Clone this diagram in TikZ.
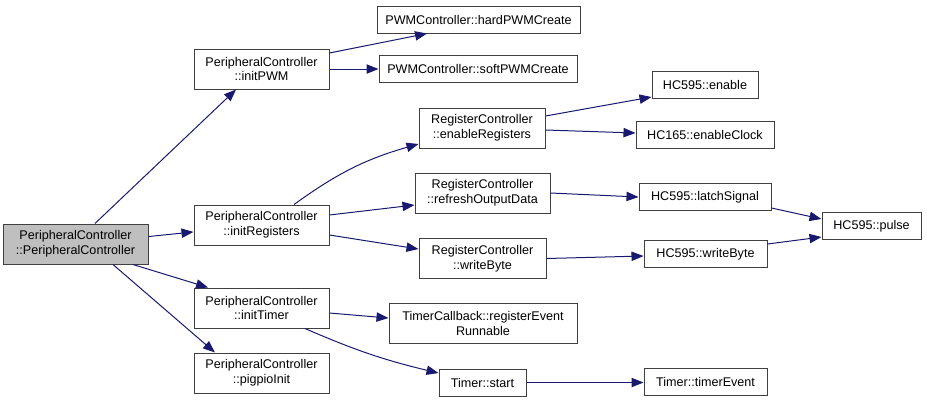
\documentclass[tikz,border=0pt]{standalone}
\usepackage{fontspec}
\setmainfont{Liberation Sans}
\usetikzlibrary{arrows.meta}
\definecolor{edgecol}{HTML}{191970}
\definecolor{boxline}{HTML}{404040}
\definecolor{rootfill}{HTML}{BFBFBF}
\begin{document}
\begin{tikzpicture}[x=0.75pt,y=-0.75pt,
  box/.style={draw=boxline,line width=0.75pt,inner sep=0pt,align=center,
    font=\fontsize{9.45pt}{11pt}\selectfont,text=black},
  one/.style={box,minimum height=20.25pt},
  two/.style={box,minimum height=30pt},
  edge/.style={draw=edgecol,line width=0.75pt,-{Triangle[length=9pt,width=7pt]}}]
\useasboundingbox (0,0) rectangle (927,401);
% nodes
\node[two,fill=rootfill,minimum width=108.75pt] (root) at (75.5,244) {PeripheralController\\::PeripheralController};
\node[two,minimum width=101.25pt] (initPWM) at (261.5,69) {PeripheralController\\::initPWM};
\node[one,minimum width=152.25pt] (hard) at (478.5,19.5) {PWMController::hardPWMCreate};
\node[one,minimum width=148.5pt] (soft) at (478,68.5) {PWMController::softPWMCreate};
\node[two,minimum width=94.5pt] (enreg) at (482,128) {RegisterController\\::enableRegisters};
\node[one,minimum width=79.5pt] (enable) at (705,85) {HC595::enable};
\node[one,minimum width=103.5pt] (enclk) at (705,135) {HC165::enableClock};
\node[two,minimum width=101.25pt] (refresh) at (482.5,193) {RegisterController\\::refreshOutputData};
\node[one,minimum width=99pt] (latch) at (705,197) {HC595::latchSignal};
\node[two,minimum width=101.25pt] (initReg) at (261.5,225) {PeripheralController\\::initRegisters};
\node[two,minimum width=95.25pt] (rcwrite) at (482.5,258.5) {RegisterController\\::writeByte};
\node[one,minimum width=74.25pt] (pulse) at (871.5,226) {HC595::pulse};
\node[one,minimum width=92.25pt] (hcwrite) at (705.5,254) {HC595::writeByte};
\node[two,minimum width=101.25pt] (initTimer) at (261.5,308) {PeripheralController\\::initTimer};
\node[two,minimum width=141pt] (tcb) at (483,323.5) {TimerCallback::registerEvent\\Runnable};
\node[two,minimum width=101.25pt] (pigpio) at (261.5,373) {PeripheralController\\::pigpioInit};
\node[one,minimum width=65.25pt] (tstart) at (482.5,382.5) {Timer::start};
\node[one,minimum width=92.25pt] (tevent) at (705.5,382) {Timer::timerEvent};
% edges
\draw[edge] ([xshift=14.6pt]root.north) -- ([xshift=-19.1pt]initPWM.south);
\draw[edge] (root) -- (initReg);
\draw[edge] ([xshift=43.1pt]root.south) -- ([xshift=-40.1pt]initTimer.north);
\draw[edge] ([xshift=28.1pt]root.south) -- ([xshift=-34.9pt]pigpio.north);
\draw[edge] ([yshift=12pt]initPWM.east) -- ([xshift=-38.6pt]hard.south);
\draw[edge] (initPWM.east) -- (initPWM.east -| soft.west);
\draw[edge] ([xshift=24.4pt]initReg.north) to[bend left=10] ([yshift=-12pt]enreg.west);
\draw[edge] ([yshift=7.5pt]initReg.east) -- ([yshift=-9pt]refresh.west);
\draw[edge] ([yshift=-7.5pt]initReg.east) -- ([yshift=7.1pt]rcwrite.west);
\draw[edge] ([yshift=9pt]enreg.east) -- ([yshift=-9pt]enable.west);
\draw[edge] ([yshift=-1.5pt]enreg.east) -- ([yshift=1.5pt]enclk.west);
\draw[edge] (refresh.east) -- (latch.west);
\draw[edge] (rcwrite.east) -- ([yshift=-1.5pt]hcwrite.west);
\draw[edge] ([yshift=-8.25pt]latch.east) -- ([yshift=5.25pt]pulse.west);
\draw[edge] ([yshift=7.5pt]hcwrite.east) -- ([yshift=-8.25pt]pulse.west);
\draw[edge] ([yshift=-3.75pt]initTimer.east) -- ([yshift=4.1pt]tcb.west);
\draw[edge] ([xshift=32.6pt]initTimer.south) to[bend right=5] ([yshift=7.1pt]tstart.west);
\draw[edge] (tstart.east) -- (tstart.east -| tevent.west);
\end{tikzpicture}
\end{document}
